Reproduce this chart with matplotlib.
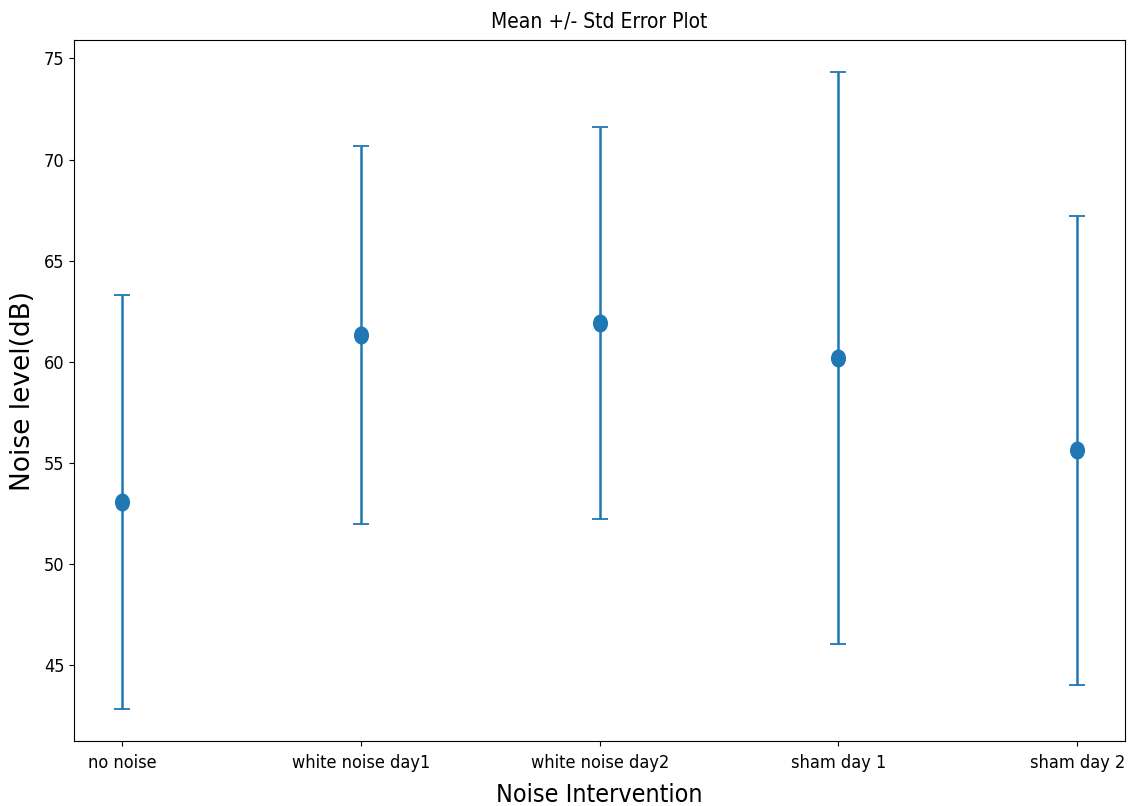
import numpy as np
import matplotlib
matplotlib.use('Agg')
import matplotlib.pyplot as plt
from matplotlib.path import Path
from matplotlib.transforms import Affine2D

# Данные: среднее и стандартная ошибка по группам
groups = ['no noise', 'white noise day1', 'white noise day2', 'sham day 1', 'sham day 2']
means = [53.07, 61.33, 61.93, 60.20, 55.63]
errors = [10.23, 9.36, 9.67, 14.13, 11.60]

plt.rcParams['font.family'] = ['DejaVu Sans']
plt.rcParams['font.stretch'] = 'condensed'

# вытянутый по вертикали маркер-эллипс
oval = Path.unit_circle().transformed(Affine2D().scale(0.82, 1.0))

fig = plt.figure(figsize=(11.31, 8.06), dpi=100)
ax = fig.add_axes([0.0657, 0.0806, 0.929, 0.8697])
ax.errorbar(groups, means, yerr=errors, fmt='o', marker=oval, markersize=12,
            color='#1f77b4', ecolor='#1f77b4', elinewidth=1.8, capsize=6, capthick=1.3)
ax.set_yticks([45, 50, 55, 60, 65, 70, 75])
ax.tick_params(labelsize=13)
ax.tick_params(axis='x', pad=6)
ax.set_title('Mean +/- Std Error Plot', fontsize=15, pad=9)
ax.set_xlabel('Noise Intervention', fontsize=18, labelpad=8)
ax.set_ylabel('Noise level(dB)', fontsize=19, fontstretch='normal', labelpad=6)
fig.savefig('out.png', dpi=100)
